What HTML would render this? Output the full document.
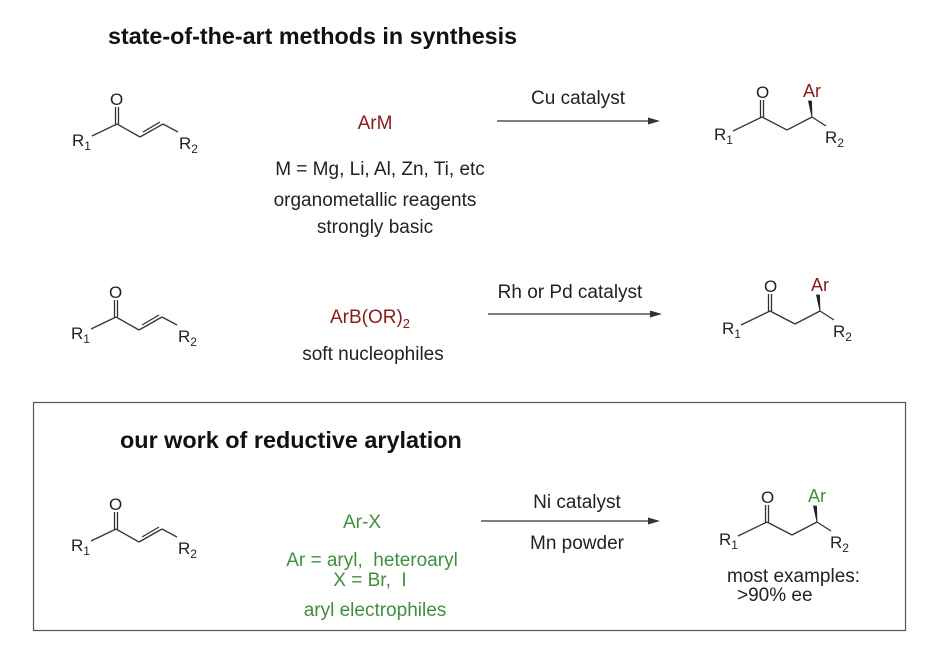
<!DOCTYPE html>
<html><head><meta charset="utf-8"><style>
html,body{margin:0;padding:0;background:#fff;}
svg{display:block;font-family:"Liberation Sans",Arial,sans-serif;}
</style></head><body>
<svg width="950" height="657" viewBox="0 0 950 657" xmlns="http://www.w3.org/2000/svg">
<defs>
<g id="enone" stroke="#333" stroke-width="1.3" fill="none">
<line x1="92" y1="136" x2="117" y2="124"/>
<line x1="115.5" y1="124" x2="115.5" y2="107"/>
<line x1="118.5" y1="124" x2="118.5" y2="107"/>
<line x1="117" y1="124" x2="140" y2="137"/>
<line x1="140" y1="137" x2="163" y2="124"/>
<line x1="143" y1="132" x2="160" y2="122"/>
<line x1="163" y1="124" x2="178" y2="132"/>
<g stroke="none" fill="#222" font-size="17">
<text x="110" y="105">O</text>
<text x="72" y="146">R<tspan font-size="12" dy="4">1</tspan></text>
<text x="179" y="149">R<tspan font-size="12" dy="4">2</tspan></text>
</g>
</g>
<g id="prod" stroke="#333" stroke-width="1.3" fill="none">
<line x1="733" y1="131" x2="762" y2="117"/>
<line x1="760.5" y1="117" x2="760.5" y2="100"/>
<line x1="763.5" y1="117" x2="763.5" y2="100"/>
<line x1="762" y1="117" x2="787" y2="130"/>
<line x1="787" y1="130" x2="812" y2="117"/>
<line x1="812" y1="117" x2="826" y2="126"/>
<polygon points="812,117 808.5,101 811.5,101" fill="#222" stroke="#222" stroke-width="0.8"/>
<g stroke="none" fill="#222" font-size="17">
<text x="756" y="98">O</text>
<text x="714" y="140">R<tspan font-size="12" dy="4">1</tspan></text>
<text x="825" y="143">R<tspan font-size="12" dy="4">2</tspan></text>
</g>
</g>
</defs>

<text x="108" y="44" font-size="23.3" font-weight="bold" fill="#111">state-of-the-art methods in synthesis</text>

<!-- row 1 -->
<use href="#enone"/>
<use href="#prod"/>
<text x="812" y="97" font-size="18" fill="#8b1a1a" text-anchor="middle">Ar</text>
<text x="375" y="129" font-size="19" fill="#8b1a1a" text-anchor="middle">ArM</text>
<g font-size="19" fill="#222" text-anchor="middle">
<text x="380" y="175">M = Mg, Li, Al, Zn, Ti, etc</text>
<text x="375" y="206">organometallic reagents</text>
<text x="375" y="233">strongly basic</text>
<text x="578" y="104">Cu catalyst</text>
</g>
<line x1="497" y1="121" x2="650" y2="121" stroke="#333" stroke-width="1.3"/>
<polygon points="660,121 648,117.5 648,124.5" fill="#333"/>

<!-- row 2 -->
<use href="#enone" transform="translate(-1,193)"/>
<use href="#prod" transform="translate(8,194)"/>
<text x="820" y="291" font-size="18" fill="#8b1a1a" text-anchor="middle">Ar</text>
<text x="370" y="323" font-size="19" fill="#8b1a1a" text-anchor="middle">ArB(OR)<tspan font-size="13" dy="5">2</tspan></text>
<g font-size="19" fill="#222" text-anchor="middle">
<text x="373" y="360">soft nucleophiles</text>
<text x="570" y="298">Rh or Pd catalyst</text>
</g>
<line x1="488" y1="314" x2="652" y2="314" stroke="#333" stroke-width="1.3"/>
<polygon points="662,314 650,310.5 650,317.5" fill="#333"/>

<!-- box -->
<rect x="33.5" y="402.5" width="872" height="228" fill="none" stroke="#555" stroke-width="1.2"/>
<text x="120" y="448" font-size="23.4" font-weight="bold" fill="#111">our work of reductive arylation</text>
<use href="#enone" transform="translate(-1,405)"/>
<use href="#prod" transform="translate(5,405)"/>
<text x="817" y="502" font-size="18" fill="#3f8f3f" text-anchor="middle">Ar</text>
<g font-size="19" fill="#3f8f3f" text-anchor="middle">
<text x="362" y="528">Ar-X</text>
<text x="372" y="566">Ar = aryl,&#160; heteroaryl</text>
<text x="370" y="586">X = Br,&#160; I</text>
<text x="375" y="616">aryl electrophiles</text>
</g>
<g font-size="19" fill="#222" text-anchor="middle">
<text x="577" y="508">Ni catalyst</text>
<text x="577" y="549">Mn powder</text>
</g>
<g font-size="19" fill="#222">
<text x="727" y="582">most examples:</text>
<text x="737" y="601">&gt;90% ee</text>
</g>
<line x1="481" y1="521" x2="650" y2="521" stroke="#333" stroke-width="1.3"/>
<polygon points="660,521 648,517.5 648,524.5" fill="#333"/>
</svg>
</body></html>
